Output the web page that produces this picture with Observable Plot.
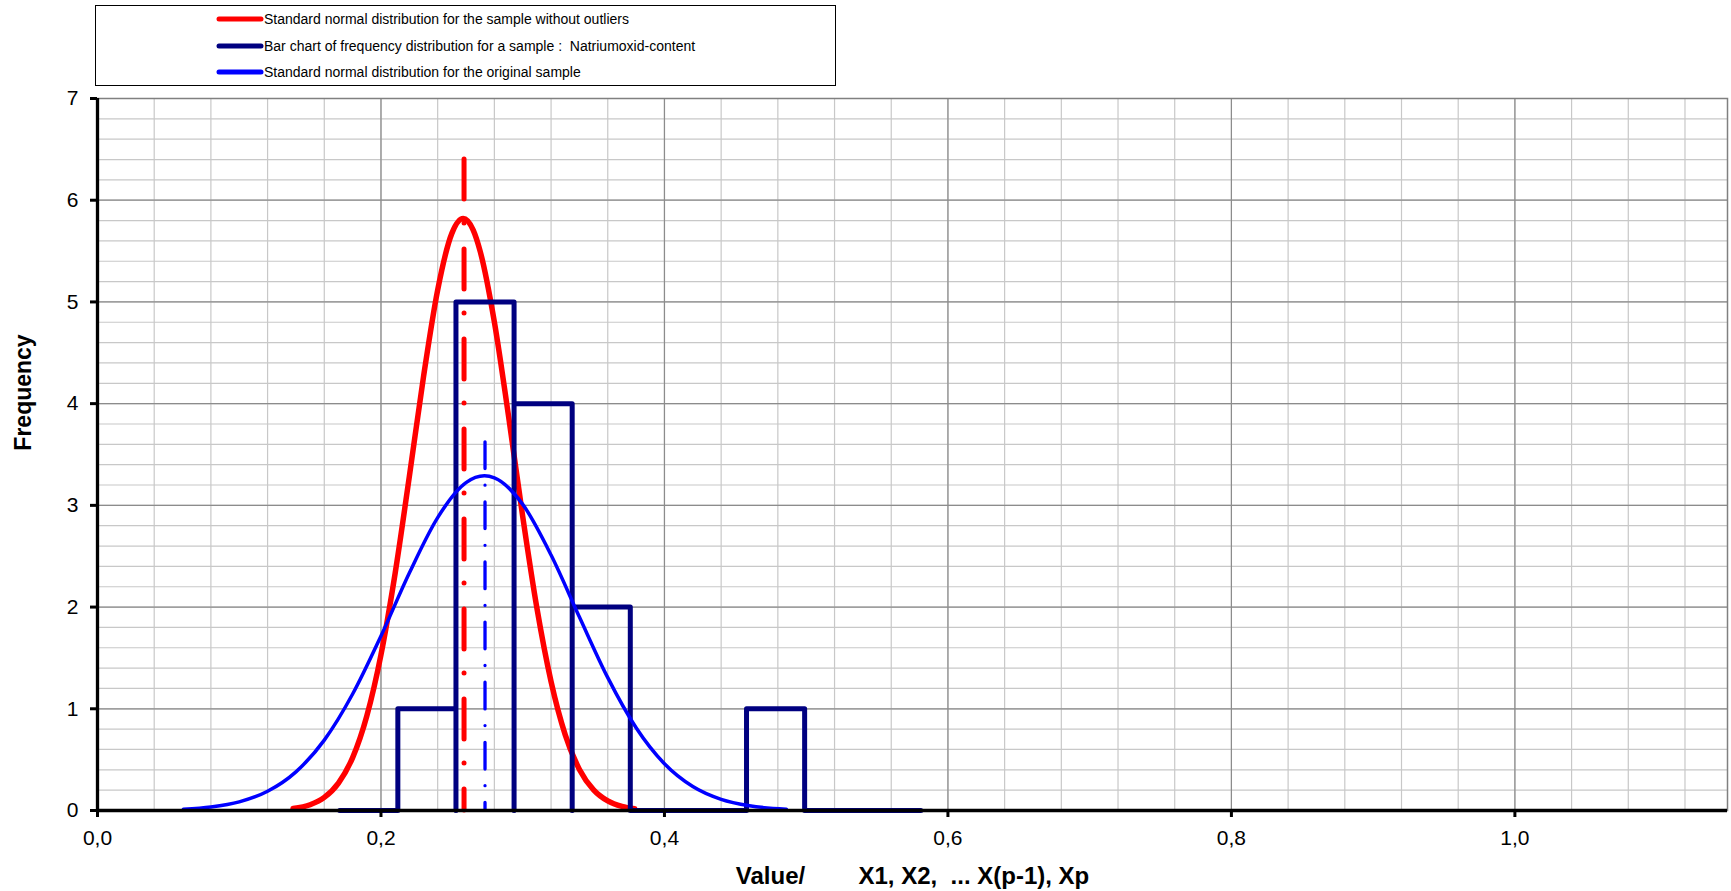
<!DOCTYPE html>
<html><head><meta charset="utf-8">
<script src="https://cdn.jsdelivr.net/npm/d3@7"></script>
<script src="https://cdn.jsdelivr.net/npm/@observablehq/plot@0.6"></script>
<style>
html,body{margin:0;padding:0;background:#fff;overflow:hidden;}
#wrap{position:relative;width:1731px;height:891px;font-family:"Liberation Sans",Arial,sans-serif;}
#chart{position:absolute;left:0;top:0;}
#legend{position:absolute;left:95px;top:5px;width:739px;height:79px;border:1px solid #000;background:#fff;}
.row{position:absolute;left:0;height:20px;display:flex;align-items:center;font-size:14px;white-space:pre;color:#000;}
.row svg{margin-left:120px;margin-right:0px;}
svg text{white-space:pre;}
</style></head>
<body>
<div id="wrap"><div id="chart"></div><div id="legend"></div></div>
<script>
// Histogram (bar outline) of the sample: bin edges and counts
const binEdges = [0.1709, 0.2119, 0.2529, 0.2939, 0.3349, 0.3759, 0.4169, 0.4579, 0.4989, 0.5399, 0.5809];
const binCounts = [0, 1, 5, 4, 2, 0, 0, 1, 0, 0];

// Normal curve for the sample without outliers (red)
const redX = [0.138,0.15,0.16,0.17,0.18,0.19,0.20,0.21,0.22,0.23,0.24,0.25,0.258,0.265,0.27,0.28,0.29,0.30,0.31,0.32,0.33,0.34,0.35,0.36,0.37,0.379];
const redY = [0.019,0.057,0.129,0.270,0.520,0.930,1.532,2.333,3.282,4.264,5.118,5.674,5.820,5.708,5.497,4.803,3.877,2.890,1.990,1.267,0.744,0.404,0.203,0.094,0.040,0.017];

// Normal curve for the original sample (blue)
const blueX = [0.0606,0.08,0.10,0.12,0.14,0.16,0.18,0.20,0.22,0.24,0.26,0.273,0.28,0.30,0.32,0.34,0.36,0.38,0.40,0.42,0.44,0.46,0.486];
const blueY = [0.013,0.035,0.085,0.189,0.380,0.692,1.145,1.716,2.335,2.880,3.223,3.290,3.270,3.010,2.512,1.902,1.306,0.813,0.459,0.235,0.109,0.046,0.013];

// Mean lines (dash-dot): x position and top
const meanX = [0.2586, 0.2734];
const meanTop = [6.4, 3.62];

// Axis ticks
const xTicks = [0, 0.2, 0.4, 0.6, 0.8, 1.0];
const yTicks = [0, 1, 2, 3, 4, 5, 6, 7];

const legendLabels = [
  "Standard normal distribution for the sample without outliers",
  "Bar chart of frequency distribution for a sample :  Natriumoxid-content",
  "Standard normal distribution for the original sample"
];
const legendColors = ["#ff0000", "#000080", "#0000ff"];

// build tables
const hist = [];
binCounts.forEach((c, i) => {
  hist.push({x: binEdges[i], y: 0});
  hist.push({x: binEdges[i], y: c});
  hist.push({x: binEdges[i + 1], y: c});
  hist.push({x: binEdges[i + 1], y: 0});
});
const red = redX.map((x, i) => ({x, y: redY[i]}));
const blue = blueX.map((x, i) => ({x, y: blueY[i]}));
const means = meanX.map((x, i) => ({x, y1: meanTop[i], y2: 0}));

const xMinor = d3.range(1, 29).map(i => i * 0.04);
const yMinor = d3.range(1, 35).map(i => i * 0.2);
const xMajor = xTicks.slice(1);
const yMajor = yTicks.slice(1);

const fmt = d => d.toFixed(1).replace(".", ",");

const chart = Plot.plot({
  width: 1731,
  height: 891,
  marginLeft: 97,
  marginRight: 4,
  marginTop: 98,
  marginBottom: 81,
  x: {domain: [0, 1.15]},
  y: {domain: [0, 7]},
  style: {fontFamily: "'Liberation Sans', Arial, sans-serif", fontSize: "21px", background: "white", color: "black"},
  marks: [
    Plot.ruleX(xMinor, {stroke: "#c8c8c8", strokeWidth: 1.2}),
    Plot.ruleY(yMinor, {stroke: "#c8c8c8", strokeWidth: 1.2}),
    Plot.ruleX(xMajor, {stroke: "#8c8c8c", strokeWidth: 1.2}),
    Plot.ruleY(yMajor, {stroke: "#8c8c8c", strokeWidth: 1.2}),
    Plot.frame({stroke: "#808080", strokeWidth: 1.5}),
    Plot.line(red, {x: "x", y: "y", stroke: "#ff0000", strokeWidth: 5.5, curve: "monotone-x", strokeLinecap: "round"}),
    Plot.line(hist, {x: "x", y: "y", stroke: "#000080", strokeWidth: 5, strokeLinejoin: "round", strokeLinecap: "round"}),
    Plot.line(blue, {x: "x", y: "y", stroke: "#0000ff", strokeWidth: 3.5, curve: "monotone-x", strokeLinecap: "round"}),
    Plot.ruleX(means.slice(0, 1), {x: "x", y1: "y1", y2: "y2", stroke: "#ff0000", strokeWidth: 5, strokeDasharray: "40,24,0,26", strokeLinecap: "round"}),
    Plot.ruleX(means.slice(1, 2), {x: "x", y1: "y1", y2: "y2", stroke: "#0000ff", strokeWidth: 3.3, strokeDasharray: "26.7,16.7,0,16.7", strokeLinecap: "round"}),
    Plot.ruleY([0], {stroke: "black", strokeWidth: 3.3}),
    Plot.ruleX([0], {stroke: "black", strokeWidth: 3.3, y1: 0, y2: 7}),
    Plot.axisX({ticks: xTicks, tickFormat: fmt, tickSize: 7, tickPadding: 12.5, strokeWidth: 3, fontSize: 21, label: null}),
    Plot.axisY({ticks: yTicks, tickFormat: d => String(d), tickSize: 7, tickPadding: 12, strokeWidth: 3, fontSize: 21, label: null}),
    Plot.text(["Frequency"], {text: d => d, frameAnchor: "left", rotate: -90, dx: -67, dy: -62, lineAnchor: "bottom", textAnchor: "middle", fontSize: 23, fontWeight: "bold"}),
    Plot.text(["Value/        X1, X2,  ... X(p-1), Xp"], {text: d => d, frameAnchor: "bottom", dy: 73, lineAnchor: "bottom", textAnchor: "middle", fontSize: 24, fontWeight: "bold"})
  ]
});
document.getElementById("chart").appendChild(chart);

// Legend
const legend = document.getElementById("legend");
const rowTops = [3, 30, 56];
legendLabels.forEach((lab, i) => {
  const row = document.createElement("div");
  row.className = "row";
  row.style.top = rowTops[i] + "px";
  row.innerHTML = `<svg width="48" height="10"><line x1="3" y1="5" x2="45" y2="5" stroke="${legendColors[i]}" stroke-width="5" stroke-linecap="round"/></svg><span>${lab}</span>`;
  legend.appendChild(row);
});
</script>
</body></html>
